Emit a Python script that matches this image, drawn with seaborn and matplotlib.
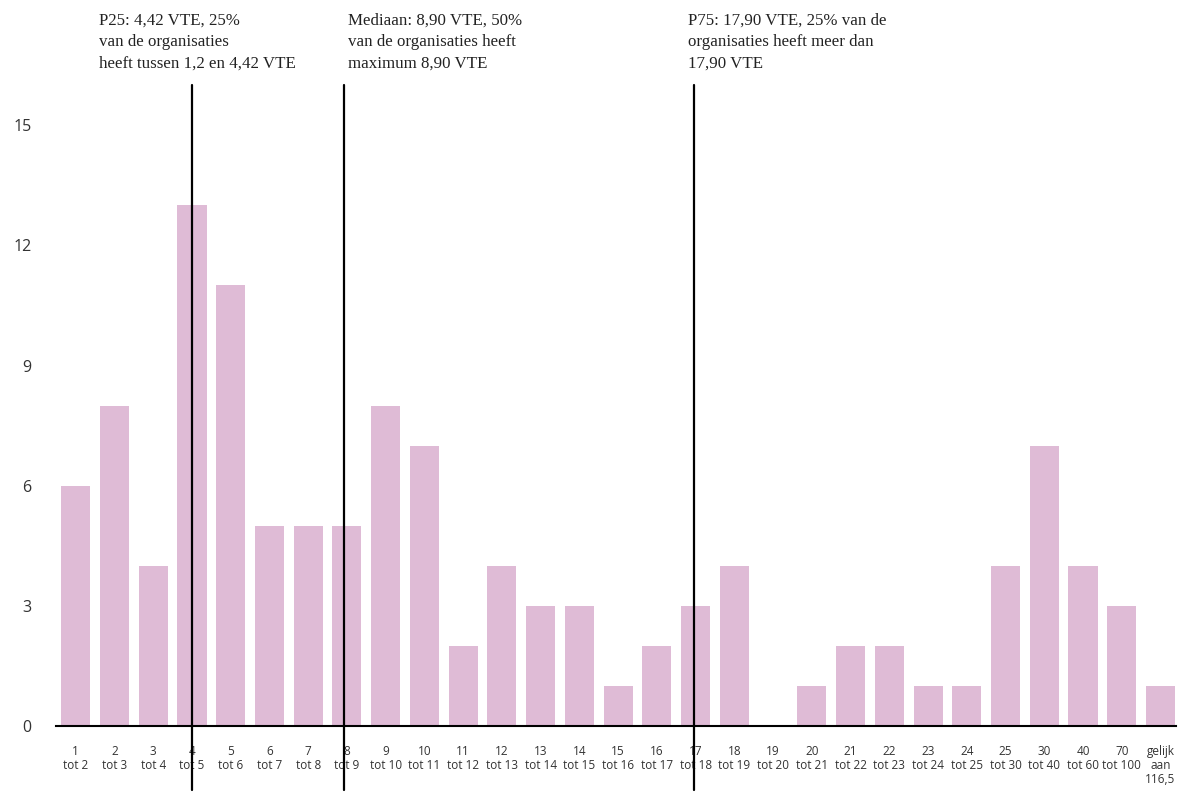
import matplotlib
matplotlib.use('Agg')
import matplotlib.pyplot as plt
import seaborn as sns
import pandas as pd

# Data
categories = ['1\ntot 2', '2\ntot 3', '3\ntot 4', '4\ntot 5', '5\ntot 6', '6\ntot 7',
              '7\ntot 8', '8\ntot 9', '9\ntot 10', '10\ntot 11', '11\ntot 12',
              '12\ntot 13', '13\ntot 14', '14\ntot 15', '15\ntot 16', '16\ntot 17',
              '17\ntot 18', '18\ntot 19', '19\ntot 20', '20\ntot 21', '21\ntot 22',
              '22\ntot 23', '23\ntot 24', '24\ntot 25', '25\ntot 30', '30\ntot 40',
              '40\ntot 60', '70\ntot 100', 'gelijk\naan\n116,5']
counts = [6, 8, 4, 13, 11, 5, 5, 5, 8, 7, 2, 4, 3, 3, 1, 2, 3, 4, 0, 1, 2, 2, 1, 1,
          4, 7, 4, 3, 1]
yticks = [0, 3, 6, 9, 12, 15]

# percentile markers (position on category axis) and their labels
marker_pos = [3.0, 6.92, 15.96]
marker_text = ['P25: 4,42 VTE, 25%\nvan de organisaties\nheeft tussen 1,2 en 4,42 VTE',
               'Mediaan: 8,90 VTE, 50%\nvan de organisaties heeft\nmaximum 8,90 VTE',
               'P75: 17,90 VTE, 25% van de\norganisaties heeft meer dan\n17,90 VTE']
text_offset = [-2.4, 0.1, -0.15]

df = pd.DataFrame({'klasse': categories, 'aantal': counts})

sns.set_style('white')
plt.rcParams['font.family'] = ['Open Sans', 'DejaVu Sans']

fig = plt.figure(figsize=(12, 8), dpi=100)
ax = fig.add_axes([0.047, 0.0925, 0.933, 0.801])

sns.barplot(data=df, x='klasse', y='aantal', color='#dfbbd6', width=0.75,
            saturation=1, linewidth=0, ax=ax)

ax.set_ylim(0, 16)
ax.set_xlim(-0.5, 28.4)
ax.set_yticks(yticks)
ax.set_yticklabels([str(t) for t in yticks], fontsize=11.5, color='#333333')
ax.tick_params(axis='y', length=0, pad=18)
ax.tick_params(axis='x', length=0, pad=14, labelsize=8.5, labelcolor='#333333')
for lbl in ax.get_xticklabels():
    lbl.set_linespacing(1.1)
ax.set_xlabel('')
ax.set_ylabel('')

for s in ['top', 'right', 'left']:
    ax.spines[s].set_visible(False)
ax.spines['bottom'].set_color('black')
ax.spines['bottom'].set_linewidth(1.5)

for pos, txt, off in zip(marker_pos, marker_text, text_offset):
    ax.axvline(pos, ymin=-0.1, ymax=1.0, color='black', linewidth=1.6, clip_on=False)
    ax.text(pos + off, 16.35, txt, ha='left', va='bottom', fontsize=12.2,
            family=['Liberation Serif', 'DejaVu Serif'], color='#222222',
            linespacing=1.45)

fig.savefig('out.png', dpi=100)
